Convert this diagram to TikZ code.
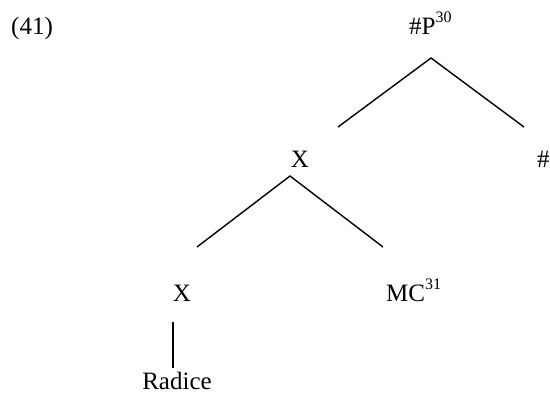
\documentclass[tikz,border=0pt]{standalone}
\usepackage{fontspec}
\setmainfont{Liberation Serif}
\newcommand{\sps}[1]{\raisebox{0.45em}{\fontsize{16}{16}\selectfont #1}}
\tikzset{
  lbl/.style={inner sep=0pt, anchor=base, font=\fontsize{25}{29}\selectfont},
  lblw/.style={lbl, anchor=base west},
  edge/.style={line width=1.4pt, line cap=butt}
}
\begin{document}
\begin{tikzpicture}[x=1pt,y=-1pt]
\useasboundingbox (0,0) rectangle (550,394);
% labels
\node[lblw] (ex) at (11,34) {(41)};
\node[lblw] (root) at (409,34) {\#P\sps{30}};
\node[lbl] (xa) at (300,167) {X};
\node[lblw] (hash) at (537,167) {\#};
\node[lbl] (xb) at (182,301) {X};
\node[lblw] (mc) at (386,301) {MC\sps{31}};
\node[lbl] (rad) at (177,389) {Radice};
% branch points
\coordinate (r0) at (431,58);
\coordinate (rL) at (338,127);
\coordinate (rR) at (524,127);
\coordinate (a0) at (290,176);
\coordinate (aL) at (197,247);
\coordinate (aR) at (383,247);
\coordinate (b0) at (173,322);
\coordinate (b1) at (173,368);
\draw[edge] (rL) -- (r0) -- (rR);
\draw[edge] (aL) -- (a0) -- (aR);
\draw[edge] (b0) -- (b1);
\end{tikzpicture}
\end{document}
